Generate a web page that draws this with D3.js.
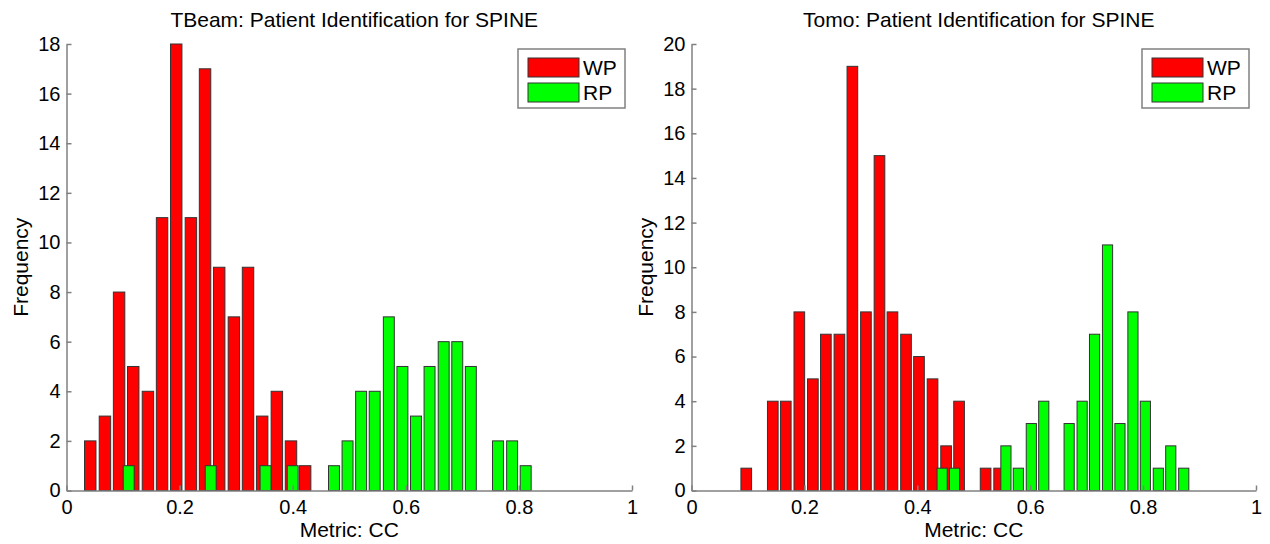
<!DOCTYPE html>
<html>
<head>
<meta charset="utf-8">
<script src="https://cdn.jsdelivr.net/npm/d3@7"></script>
<style>
  body { margin: 0; background: #fff; }
  svg { font-family: "Liberation Sans", Arial, sans-serif; }
</style>
</head>
<body>
<div id="chart"></div>
<script>
// bin centers and counts
const tbWpCenters = [0.042, 0.068, 0.093, 0.118, 0.144, 0.169, 0.194, 0.220, 0.245, 0.270, 0.296, 0.321, 0.346, 0.372, 0.397, 0.422];
const tbWpCounts  = [2, 3, 8, 5, 4, 11, 18, 11, 17, 9, 7, 9, 3, 4, 2, 1];
const tbRpCenters = [0.110, 0.255, 0.352, 0.400, 0.473, 0.497, 0.521, 0.545, 0.570, 0.594, 0.618, 0.642, 0.667, 0.691, 0.715, 0.763, 0.788, 0.812];
const tbRpCounts  = [1, 1, 1, 1, 1, 2, 4, 4, 7, 5, 3, 5, 6, 6, 5, 2, 2, 1];

const toWpCenters = [0.097, 0.144, 0.167, 0.191, 0.215, 0.238, 0.262, 0.285, 0.309, 0.333, 0.356, 0.380, 0.403, 0.427, 0.451, 0.474, 0.521, 0.545];
const toWpCounts  = [1, 4, 4, 8, 5, 7, 7, 19, 8, 15, 8, 7, 6, 5, 2, 4, 1, 1];
const toRpCenters = [0.444, 0.466, 0.557, 0.579, 0.602, 0.624, 0.669, 0.692, 0.714, 0.737, 0.759, 0.782, 0.804, 0.827, 0.849, 0.872];
const toRpCounts  = [1, 1, 2, 1, 3, 4, 3, 4, 7, 11, 3, 8, 4, 1, 2, 1];

const xTicks = [0, 0.2, 0.4, 0.6, 0.8, 1];
const legendNames = ["WP", "RP"];
const colors = ["#ff0000", "#00ff00"];

const W = 1270, H = 544;
const svg = d3.select("#chart").append("svg").attr("width", W).attr("height", H);

function drawPanel(opt) {
    let x = d3.scaleLinear().domain([0, 1]).range([opt.left, opt.right]);
    let y = d3.scaleLinear().domain([0, opt.ymax]).range([490.5, 44]);
    let g = svg.append("g");

    let series = [
        {c: opt.wpC, n: opt.wpN, bw: opt.wpBin, col: colors[0]},
        {c: opt.rpC, n: opt.rpN, bw: opt.rpBin, col: colors[1]}
    ];
    series.forEach(function(s) {
        g.append("g").selectAll("rect").data(d3.zip(s.c, s.n)).enter()
            .append("rect")
            .attr("x", d => x(d[0] - s.bw * 0.4))
            .attr("width", d => x(d[0] + s.bw * 0.4) - x(d[0] - s.bw * 0.4))
            .attr("y", d => y(d[1]))
            .attr("height", d => y(0) - y(d[1]))
            .attr("fill", s.col)
            .attr("stroke", "#333")
            .attr("stroke-width", 1);
    });

    // axes, ticks pointing inward like matlab
    let xa = g.append("g").attr("transform", `translate(0,${y(0)})`)
        .call(d3.axisBottom(x).tickValues(xTicks).tickFormat(d3.format("")).tickSizeInner(-5).tickSizeOuter(0).tickPadding(9));
    let ya = g.append("g").attr("transform", `translate(${x(0)},0)`)
        .call(d3.axisLeft(y).ticks(opt.ymax / 2).tickSizeInner(-5).tickSizeOuter(0).tickPadding(6));
    [xa, ya].forEach(function(a) {
        a.select(".domain").attr("stroke", "#808080").attr("stroke-width", 1.5);
        a.selectAll(".tick line").attr("stroke", "#808080").attr("stroke-width", 1.5);
        a.selectAll(".tick text").attr("fill", "#000").style("font-size", "20px")
            .style("font-family", "'Liberation Sans', Arial, sans-serif");
    });

    // title + labels
    g.append("text")
        .attr("x", (opt.left + opt.right) / 2 + 5).attr("y", 27)
        .attr("text-anchor", "middle").style("font-size", "21px")
        .text(opt.title);
    g.append("text")
        .attr("x", (opt.left + opt.right) / 2).attr("y", 537)
        .attr("text-anchor", "middle").style("font-size", "21px")
        .text("Metric: CC");
    g.append("text")
        .attr("transform", `translate(${opt.left - 38.5}, ${(y(0) + y(opt.ymax)) / 2}) rotate(-90)`)
        .attr("text-anchor", "middle").style("font-size", "21px")
        .text("Frequency");

    // legend
    let lg = g.append("g").attr("transform", `translate(${opt.right - 114}, 49)`);
    lg.append("rect").attr("x", 0).attr("y", 0).attr("width", 107).attr("height", 59)
        .attr("fill", "#fff").attr("stroke", "#808080").attr("stroke-width", 1.5);
    legendNames.forEach(function(name, i) {
        lg.append("rect").attr("x", 10).attr("y", 9 + i * 25).attr("width", 51).attr("height", 19)
            .attr("fill", colors[i]).attr("stroke", "#333").attr("stroke-width", 1);
        lg.append("text").attr("x", 65).attr("y", 26 + i * 25)
            .style("font-size", "21px").text(name);
    });
}

drawPanel({left: 66.5, right: 632, ymax: 18, title: "TBeam: Patient Identification for SPINE",
    wpC: tbWpCenters, wpN: tbWpCounts, wpBin: 0.0253, rpC: tbRpCenters, rpN: tbRpCounts, rpBin: 0.0242});
drawPanel({left: 691.5, right: 1256, ymax: 20, title: "Tomo: Patient Identification for SPINE",
    wpC: toWpCenters, wpN: toWpCounts, wpBin: 0.0236, rpC: toRpCenters, rpN: toRpCounts, rpBin: 0.0225});
</script>
</body>
</html>
